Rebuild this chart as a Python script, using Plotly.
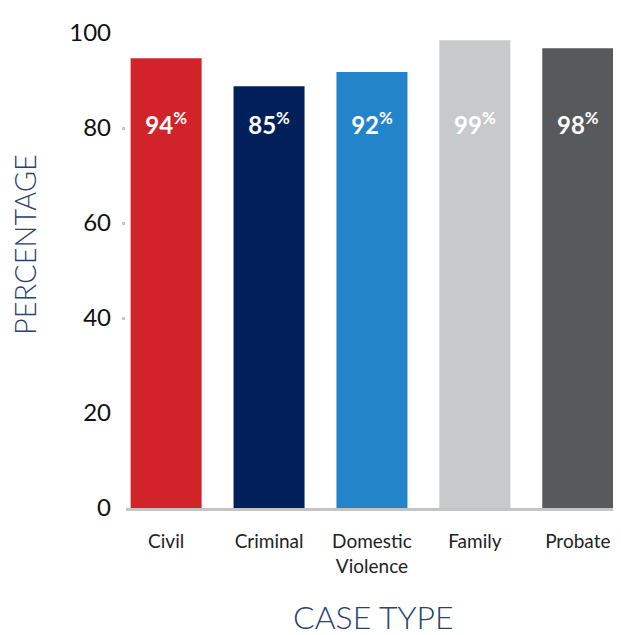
import plotly.graph_objects as go

categories = ["Civil", "Criminal", "Domestic<br>Violence", "Family", "Probate"]
values = [94.7, 88.8, 91.8, 98.5, 96.8]
labels = ["94", "85", "92", "99", "98"]
colors = ["#D2232A", "#001F5B", "#2484C9", "#C8C9CB", "#58595B"]
yticks = [0, 20, 40, 60, 80, 100]
dot_ticks = [40, 60, 80]

# page body has an 8px default margin; compensate
OFF = 8
W, H = 621 - OFF, 635 - OFF
l, r, t, b = 126 - OFF, 0, 33 - OFF, 127
pw, ph = W - l - r, H - t - b

def px(x):
    return (x - OFF - l) / pw

def py(y):
    return (H - b - (y - OFF)) / ph

fig = go.Figure()
fig.add_trace(go.Bar(
    x=list(range(len(categories))), y=values,
    marker=dict(color=colors, line=dict(width=0)),
    width=0.69, hoverinfo="skip",
))
fig.add_trace(go.Scatter(
    x=list(range(len(categories))), y=[80] * len(categories),
    mode="text",
    text=["<b>" + s + "<sup>%</sup></b>" for s in labels],
    textfont=dict(family="Lato", size=24, color="white"),
    hoverinfo="skip",
))
# invisible trace to activate the dot-tick axis
fig.add_trace(go.Scatter(x=[0], y=[0], yaxis="y2", mode="markers",
                         marker=dict(opacity=0), hoverinfo="skip"))

fig.update_layout(
    width=W, height=H,
    margin=dict(l=l, r=r, t=t, b=b),
    paper_bgcolor="white", plot_bgcolor="white",
    showlegend=False,
    xaxis=dict(
        range=[-0.39, 4.42],
        tickmode="array", tickvals=list(range(len(categories))), ticktext=categories,
        tickfont=dict(family="Lato", size=19, color="#222222"),
        showgrid=False, zeroline=False,
        showline=True, linecolor="#C4C4C4", linewidth=3, layer="below traces",
        ticks="", ticklabelstandoff=14,
    ),
    yaxis=dict(
        range=[0, 100],
        tickmode="array", tickvals=yticks,
        tickfont=dict(family="Lato", size=24, color="#111111"),
        showgrid=False, zeroline=False, showline=False,
        ticks="", ticklabelstandoff=14,
    ),
    yaxis2=dict(
        range=[0, 100], overlaying="y", side="left",
        tickmode="array", tickvals=dot_ticks, showticklabels=False,
        ticks="outside", ticklen=3, tickwidth=3, tickcolor="#C8C8C8",
        showgrid=False, zeroline=False, showline=False,
    ),
    annotations=[
        dict(text="PERCENTAGE", x=px(24), y=py(245), xref="paper", yref="paper",
             xanchor="center", yanchor="middle", borderpad=0,
             showarrow=False, textangle=-90,
             font=dict(family="Lato", size=29, color="#2B4170", weight=300)),
        dict(text="CASE TYPE", x=px(373), y=py(616), xref="paper", yref="paper",
             xanchor="center", yanchor="middle", borderpad=0,
             showarrow=False,
             font=dict(family="Lato", size=32, color="#2B4170", weight=300)),
    ],
)
fig.write_html("out.html")
